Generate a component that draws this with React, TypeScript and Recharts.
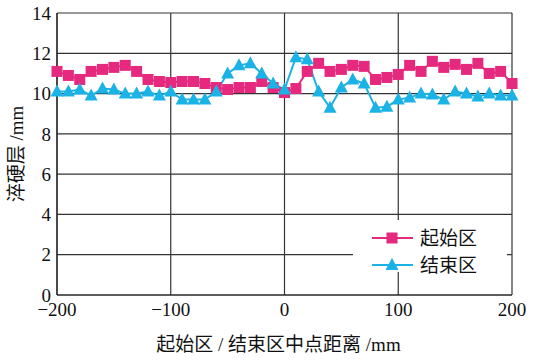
import { LineChart, Line, XAxis, YAxis, CartesianGrid, Legend } from 'recharts';

// distance from mid point (mm)
const positions = [
  -200, -190, -180, -170, -160, -150, -140, -130, -120, -110, -100, -90, -80, -70, -60, -50, -40, -30, -20, -10,
  0, 10, 20, 30, 40, 50, 60, 70, 80, 90, 100, 110, 120, 130, 140, 150, 160, 170, 180, 190, 200,
];

// 起始区 hardened depth (mm)
const startZone = [
  11.1, 10.9, 10.7, 11.1, 11.2, 11.3, 11.4, 11.1, 10.7, 10.6, 10.55, 10.6, 10.6, 10.5, 10.3, 10.2, 10.3, 10.3, 10.6, 10.3,
  10.05, 10.25, 11.1, 11.5, 11.1, 11.2, 11.4, 11.35, 10.7, 10.8, 10.95, 11.4, 11.1, 11.6, 11.3, 11.45, 11.2, 11.5, 11.0, 11.1, 10.5,
];

// 结束区 hardened depth (mm)
const endZone = [
  10.1, 10.1, 10.2, 9.9, 10.25, 10.2, 10.0, 10.0, 10.1, 9.9, 10.1, 9.7, 9.7, 9.7, 10.1, 11.0, 11.4, 11.5, 11.0, 10.5,
  10.2, 11.8, 11.7, 10.1, 9.3, 10.3, 10.7, 10.5, 9.3, 9.35, 9.7, 9.8, 10.0, 9.95, 9.7, 10.1, 10.0, 9.85, 10.0, 9.9, 9.9,
];

const xTicks = [-200, -100, 0, 100, 200];
const yTicks = [0, 2, 4, 6, 8, 10, 12, 14];

const data = positions.map((x, i) => ({ x, start: startZone[i], end: endZone[i] }));

const MAGENTA = '#E5297E';
const CYAN = '#1BB3E6';
const FONT = '"Liberation Serif", "Noto Sans CJK SC", serif';

const squareDot = (props: any) => {
  const { cx, cy, key } = props;
  return <rect key={key} x={cx - 5.5} y={cy - 5.5} width={11} height={11} fill={MAGENTA} />;
};

const triangleDot = (props: any) => {
  const { cx, cy, key } = props;
  return <polygon key={key} points={`${cx},${cy - 7} ${cx - 6.5},${cy + 5} ${cx + 6.5},${cy + 5}`} fill={CYAN} />;
};

const LegendContent = (props: any) => {
  const payload = [...(props.payload || [])].sort((a: any) => (a.dataKey === 'start' ? -1 : 1));
  return (
    <svg width={154} height={60} style={{ display: 'block', overflow: 'visible' }}>
      <rect x={0} y={0} width={154} height={52} fill="#fff" />
      {payload.map((entry: any, i: number) => {
        const cy = 18 + i * 27;
        const isStart = entry.dataKey === 'start';
        return (
          <g key={entry.value}>
            <line x1={19} x2={60} y1={cy} y2={cy} stroke={entry.color} strokeWidth={2} />
            {isStart ? (
              <rect x={33.5} y={cy - 5.5} width={11} height={11} fill={MAGENTA} />
            ) : (
              <polygon points={`39,${cy - 7} 32.5,${cy + 5} 45.5,${cy + 5}`} fill={CYAN} />
            )}
            <text x={67} y={cy} dy="0.35em" fontSize={19} fontFamily={FONT} fill="#111">
              {entry.value}
            </text>
          </g>
        );
      })}
    </svg>
  );
};

const YTitle = (props: any) => {
  const { viewBox } = props;
  const cy = viewBox.y + viewBox.height / 2;
  return (
    <text
      x={16}
      y={cy}
      transform={`rotate(-90 16 ${cy})`}
      textAnchor="middle"
      dominantBaseline="central"
      fontSize={19}
      fontFamily={FONT}
      fill="#111"
    >
      淬硬层 /mm
    </text>
  );
};

const fmt = (v: number) => String(v).replace('-', '\u2212');

export default function App() {
  return (
    <div style={{ position: 'absolute', left: 0, top: 0, background: '#fff' }}>
      <LineChart width={535} height={363} data={data} margin={{ top: 13, right: 23, left: 0, bottom: 0 }}>
        <CartesianGrid stroke="#333" strokeWidth={1.2} />
        <XAxis
          dataKey="x"
          type="number"
          domain={[-200, 200]}
          ticks={xTicks}
          tickFormatter={fmt}
          height={68}
          tickLine={false}
          tickSize={0}
          tickMargin={8}
          axisLine={{ stroke: '#222', strokeWidth: 1.2 }}
          tick={{ fill: '#111', fontSize: 19, fontFamily: FONT }}
          label={{
            value: '起始区 / 结束区中点距离 /mm',
            position: 'insideBottom',
            offset: 12,
            dx: -6,
            fill: '#111',
            fontSize: 19,
            fontFamily: FONT,
          }}
        />
        <YAxis
          type="number"
          domain={[0, 14]}
          ticks={yTicks}
          width={57}
          tickLine={false}
          tickSize={0}
          tickMargin={6}
          axisLine={{ stroke: '#222', strokeWidth: 1.2 }}
          tick={{ fill: '#111', fontSize: 19, fontFamily: FONT }}
          label={<YTitle />}
        />
        <Legend
          layout="vertical"
          align="center"
          verticalAlign="middle"
          content={<LegendContent />}
          wrapperStyle={{ position: 'absolute', left: 353, top: 220, width: 154, height: 60 }}
        />
        <Line
          name="起始区"
          dataKey="start"
          stroke={MAGENTA}
          strokeWidth={2}
          dot={squareDot}
          activeDot={false}
          isAnimationActive={false}
        />
        <Line
          name="结束区"
          dataKey="end"
          stroke={CYAN}
          strokeWidth={2}
          dot={triangleDot}
          activeDot={false}
          isAnimationActive={false}
        />
      </LineChart>
    </div>
  );
}
